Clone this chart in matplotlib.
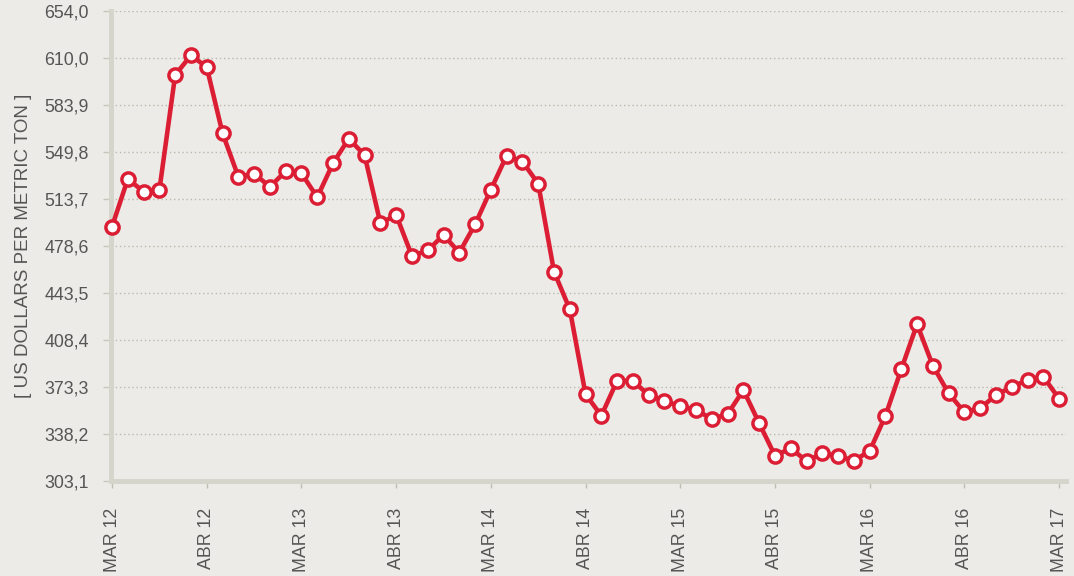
import numpy as np
from matplotlib import pyplot as plt

# monthly price, US dollars per metric ton
prices = [493.0, 528.6, 519.1, 520.4, 606.2, 620.9, 612.0, 562.7, 530.3, 532.5,
          522.8, 534.3, 532.8, 514.9, 540.3, 558.7, 546.3, 495.5, 501.7, 471.1,
          475.2, 486.8, 473.6, 494.7, 520.6, 546.0, 541.5, 525.1, 459.4, 431.3,
          367.8, 351.9, 378.0, 377.8, 367.3, 362.8, 359.1, 356.1, 349.4, 353.1,
          371.0, 346.2, 322.0, 327.5, 318.0, 323.8, 321.8, 318.3, 325.5, 351.9,
          386.5, 420.1, 389.2, 368.6, 354.4, 357.4, 367.3, 373.3, 378.5, 381.0,
          364.5]
x_labels = ['MAR 12', 'ABR 12', 'MAR 13', 'ABR 13', 'MAR 14', 'ABR 14',
            'MAR 15', 'ABR 15', 'MAR 16', 'ABR 16', 'MAR 17']
y_labels = ['303,1', '338,2', '373,3', '408,4', '443,5', '478,6',
            '513,7', '549,8', '583,9', '610,0', '654,0']

bg = '#ECEBE7'
red = '#DC1E35'
axis_grey = '#D5D5CC'
text_grey = '#555555'

plt.rcParams['font.family'] = ['Liberation Sans', 'DejaVu Sans']

fig = plt.figure(figsize=(10.74, 5.76), dpi=100, facecolor=bg)
ax = fig.add_axes([0.1034, 0.1649, 0.8892, 0.8161], facecolor=bg)

x = np.arange(len(prices))
ax.plot(x, prices, color=red, lw=3.3, marker='o', ms=9.5, mfc='white',
        mec=red, mew=2.5, zorder=3, clip_on=False)

ax.set_xlim(-0.063, 60.44)
ax.set_ylim(303.1, 654.0)

yt = np.linspace(303.1, 654.0, len(y_labels))
ax.set_yticks(yt)
ax.set_yticklabels(y_labels)
ax.set_xticks(np.arange(0, len(prices), 6))
ax.set_xticklabels(x_labels, rotation=90)

ax.grid(axis='y', linestyle=(0, (1, 2)), color='#B9B9AC', lw=1.0)
ax.set_axisbelow(True)

for s in ['top', 'right']:
    ax.spines[s].set_visible(False)
for s in ['left', 'bottom']:
    ax.spines[s].set_color(axis_grey)
    ax.spines[s].set_linewidth(3.6)

ax.tick_params(axis='y', length=6, width=1, color='#C6C6BC', pad=10,
               labelsize=12.8, labelcolor=text_grey)
ax.tick_params(axis='x', length=5, width=1, color='#BEBEB2', pad=14,
               labelsize=12.8, labelcolor=text_grey)

ax.set_ylabel('[ US DOLLARS PER METRIC TON ]', fontsize=13.5, color=text_grey,
              labelpad=9)

plt.savefig('out.png', dpi=100, facecolor=bg)
